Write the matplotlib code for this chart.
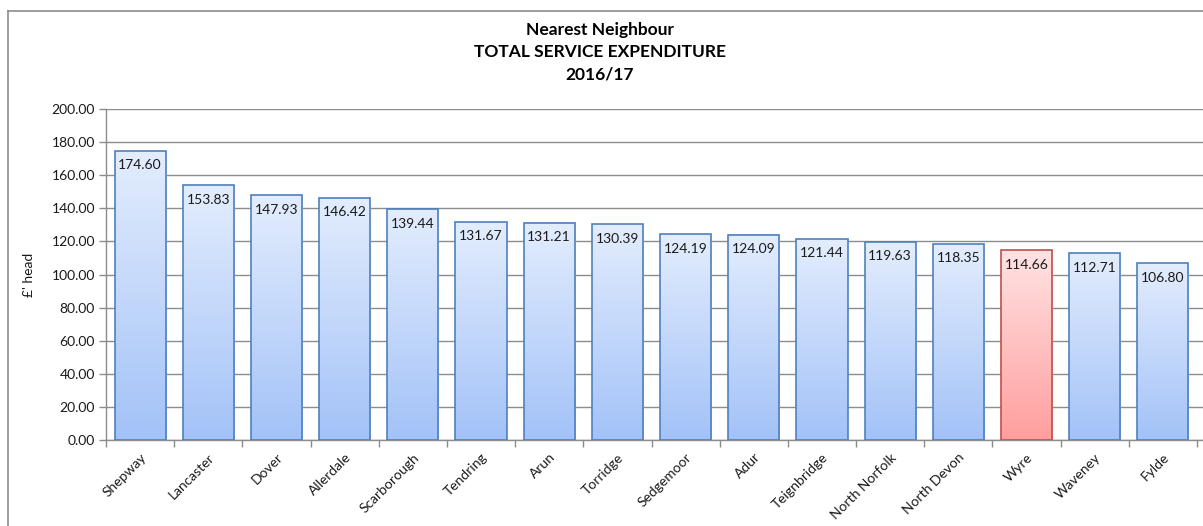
import matplotlib
matplotlib.use("Agg")
import matplotlib.pyplot as plt
import numpy as np
from matplotlib.colors import LinearSegmentedColormap

categories = ["Shepway", "Lancaster", "Dover", "Allerdale", "Scarborough", "Tendring",
              "Arun", "Torridge", "Sedgemoor", "Adur", "Teignbridge", "North Norfolk",
              "North Devon", "Wyre", "Waveney", "Fylde"]
values = [174.60, 153.83, 147.93, 146.42, 139.44, 131.67, 131.21, 130.39, 124.19,
          124.09, 121.44, 119.63, 118.35, 114.66, 112.71, 106.80]
highlight = "Wyre"
yticks = [0, 20, 40, 60, 80, 100, 120, 140, 160, 180, 200]
title_lines = ["Nearest Neighbour", "TOTAL SERVICE EXPENDITURE", "2016/17"]

plt.rcParams['font.family'] = ['Lato', 'DejaVu Sans']

W, H = 1203, 526
fig = plt.figure(figsize=(W / 100, H / 100), dpi=100)
left, right, top, bottom = 106, 1203, 109, 440
ax = fig.add_axes([left / W, 1 - bottom / H, (right - left) / W, (bottom - top) / H])

# outer chart frame (left and top visible)
fig.add_artist(plt.Line2D([8 / W, 8 / W], [0, 1 - 11 / H], color="#8c8c8c", lw=1.2, transform=fig.transFigure))
fig.add_artist(plt.Line2D([8 / W, 1], [1 - 11 / H, 1 - 11 / H], color="#8c8c8c", lw=1.2, transform=fig.transFigure))

x = np.arange(len(categories))
bars = ax.bar(x, values, width=0.75, color="none", zorder=3)

blue_cmap = LinearSegmentedColormap.from_list("b", ["#a3c2f8", "#e3edfd"])
red_cmap = LinearSegmentedColormap.from_list("r", ["#ff9e9e", "#ffe3e3"])
grad = np.linspace(0, 1, 256).reshape(-1, 1)

for b, cat, v in zip(bars, categories, values):
    is_hl = cat == highlight
    x0, w, h = b.get_x(), b.get_width(), b.get_height()
    ax.imshow(grad, cmap=red_cmap if is_hl else blue_cmap, origin="lower", aspect="auto",
              extent=[x0, x0 + w, 0, h], zorder=3, interpolation="bicubic")
    ax.add_patch(plt.Rectangle((x0, 0), w, h, fill=False,
                               edgecolor="#c0504d" if is_hl else "#4f81bd", lw=1.2, zorder=4))
    ax.annotate(f"{v:.2f}", (x0 + w / 2, h), xytext=(0, -6), textcoords="offset points",
                ha="center", va="top", fontsize=10, color="#1a1a1a", zorder=5)

cat_w = (1197 - 106) / 16
ax.set_xlim(-0.5, 15.5 + (1203 - 1197) / cat_w)
ax.set_ylim(0, 200)
ax.set_yticks(yticks)
ax.set_yticklabels([f"{t:.2f}" for t in yticks], fontsize=10, color="#1a1a1a")
ax.yaxis.grid(True, color="#8c8c8c", lw=1.0, zorder=0)
ax.set_axisbelow(True)

# x ticks at category boundaries, labels at centers
ax.set_xticks(np.arange(len(categories) + 1) - 0.5)
ax.set_xticklabels([])
ax.set_xticks(x, minor=True)
ax.set_xticklabels(categories, minor=True, rotation=45, ha="right", va="top",
                   rotation_mode="anchor", fontsize=10, color="#1a1a1a")
ax.tick_params(axis="x", which="minor", length=0, pad=8)
ax.tick_params(axis="x", which="major", length=5, color="#8c8c8c", width=1)
ax.tick_params(axis="y", length=5, color="#8c8c8c", width=1, pad=3)

for s in ["top", "right"]:
    ax.spines[s].set_visible(False)
for s in ["left", "bottom"]:
    ax.spines[s].set_color("#8c8c8c")
    ax.spines[s].set_linewidth(1.0)

ax.set_ylabel("£' head", fontsize=10, color="#1a1a1a", labelpad=12)

fig.text(600 / W, 1 - 30 / H, title_lines[0], ha="center", va="center", fontsize=12.5, fontweight="bold")
fig.text(600 / W, 1 - 52 / H, title_lines[1], ha="center", va="center", fontsize=12.5, fontweight="bold")
fig.text(600 / W, 1 - 74 / H, title_lines[2], ha="center", va="center", fontsize=12.5, fontweight="bold")

fig.savefig("out.png", dpi=100)
